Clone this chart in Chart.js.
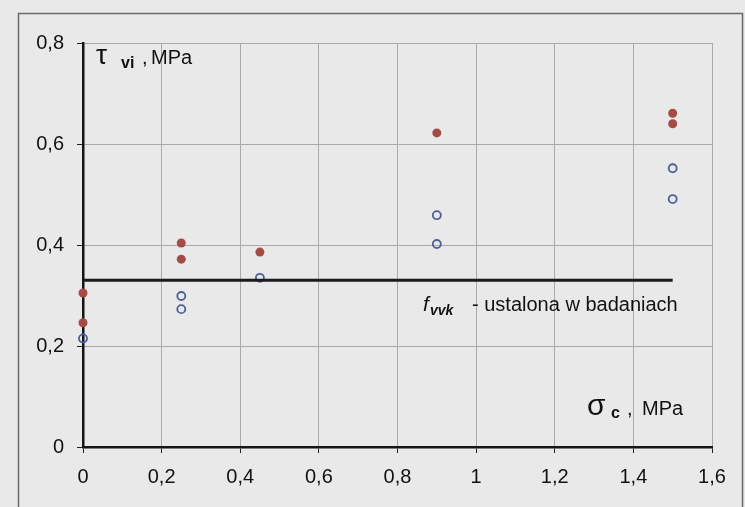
<!DOCTYPE html>
<html>
<head>
<meta charset="utf-8">
<script src="https://cdn.jsdelivr.net/npm/chart.js@4"></script>
<style>
  body { margin: 0; background: #e9e9e9; }
  canvas { display: block; }
</style>
</head>
<body>
<canvas id="myChart" width="745" height="507"></canvas>
<script>
// tick values (decimal comma like the original)
var xTicks = [0, 0.2, 0.4, 0.6, 0.8, 1, 1.2, 1.4, 1.6];
var yTicks = [0, 0.2, 0.4, 0.6, 0.8];

// filled red points
var redX = [0, 0, 0.25, 0.25, 0.45, 0.9, 1.5, 1.5];
var redY = [0.305, 0.246, 0.404, 0.372, 0.386, 0.622, 0.661, 0.640];

// open blue points
var blueX = [0, 0.25, 0.25, 0.45, 0.9, 0.9, 1.5, 1.5];
var blueY = [0.215, 0.299, 0.273, 0.335, 0.459, 0.402, 0.552, 0.491];

// f_vvk level
var fvvkX = [0, 1.5];
var fvvkY = [0.33, 0.33];

function toPoints(xs, ys) {
    return xs.map(function(x, i) { return { x: x, y: ys[i] }; });
}

function comma(v) {
    return String(Math.round(v * 10) / 10).replace('.', ',');
}

var FONT = '"Liberation Sans", Arial, sans-serif';

var decor = {
    id: 'decor',
    beforeDraw: function(chart) {
        var ctx = chart.ctx;
        ctx.save();
        ctx.fillStyle = '#e9e9e9';
        ctx.fillRect(0, 0, chart.width, chart.height);
        ctx.strokeStyle = '#6a6a6a';
        ctx.lineWidth = 1.5;
        ctx.strokeRect(18.5, 13.5, 724, 500);
        ctx.restore();
    },
    afterDraw: function(chart) {
        var ctx = chart.ctx;
        ctx.save();
        ctx.fillStyle = '#111';
        ctx.textBaseline = 'alphabetic';

        // y axis title: tau_vi , MPa
        ctx.font = '28px ' + FONT;
        ctx.fillText('\u03c4', 96, 64);
        ctx.font = 'bold 16px ' + FONT;
        ctx.fillText('vi', 121, 68);
        ctx.font = '20px ' + FONT;
        ctx.fillText(',', 142, 64);
        ctx.fillText('MPa', 151, 64);

        // x axis title: sigma_c , MPa
        ctx.font = '30px ' + FONT;
        ctx.fillText('\u03c3', 587, 415);
        ctx.font = 'bold 16px ' + FONT;
        ctx.fillText('c', 611, 418);
        ctx.font = '20px ' + FONT;
        ctx.fillText(',', 627, 415);
        ctx.fillText('MPa', 642, 415);

        // label of the f_vvk line
        ctx.font = 'italic 21px ' + FONT;
        ctx.fillText('f', 423, 311);
        ctx.font = 'italic bold 14px ' + FONT;
        ctx.fillText('vvk', 430, 315);
        ctx.font = '20px ' + FONT;
        ctx.fillText('- ustalona w badaniach', 472, 311);
        ctx.restore();
    }
};

var ctx = document.getElementById('myChart').getContext('2d');
var myChart = new Chart(ctx, {
    type: 'scatter',
    data: {
        datasets: [{
            label: 'fvvk',
            data: toPoints(fvvkX, fvvkY),
            showLine: true,
            borderColor: '#1b1b1b',
            borderWidth: 3,
            pointRadius: 0,
            clip: false
        }, {
            label: 'red',
            data: toPoints(redX, redY),
            backgroundColor: '#a44b45',
            borderColor: '#a44b45',
            pointRadius: 4.5,
            borderWidth: 0,
            clip: false
        }, {
            label: 'blue',
            data: toPoints(blueX, blueY),
            backgroundColor: 'rgba(0,0,0,0)',
            borderColor: '#4d5f98',
            pointRadius: 4,
            borderWidth: 1.8,
            clip: false
        }]
    },
    options: {
        responsive: false,
        animation: false,
        layout: { padding: { left: 0, top: 43, right: 33, bottom: 0 } },
        plugins: {
            legend: { display: false },
            tooltip: { enabled: false }
        },
        scales: {
            x: {
                type: 'linear',
                min: 0,
                max: 1.6,
                afterBuildTicks: function(scale) {
                    scale.ticks = xTicks.map(function(v) { return { value: v }; });
                },
                afterFit: function(scale) {
                    scale.height = 60;
                    scale.paddingLeft = 0;
                    scale.paddingRight = 0;
                },
                ticks: {
                    callback: function(v) { return comma(v); },
                    color: '#111',
                    font: { family: FONT, size: 20 },
                    padding: 12,
                    maxRotation: 0,
                    autoSkip: false
                },
                grid: {
                    color: function(c) { return c.tick && c.tick.value === 0 ? 'rgba(0,0,0,0)' : '#a9a9a9'; },
                    lineWidth: 1,
                    tickColor: '#222',
                    tickLength: 6
                },
                border: { color: '#151515', width: 2.5 }
            },
            y: {
                type: 'linear',
                min: 0,
                max: 0.8,
                afterBuildTicks: function(scale) {
                    scale.ticks = yTicks.map(function(v) { return { value: v }; });
                },
                afterFit: function(scale) {
                    scale.width = 83;
                    scale.paddingTop = 0;
                    scale.paddingBottom = 0;
                },
                ticks: {
                    callback: function(v) { return comma(v); },
                    color: '#111',
                    font: { family: FONT, size: 20 },
                    padding: 13
                },
                grid: {
                    color: function(c) { return c.tick && c.tick.value === 0 ? 'rgba(0,0,0,0)' : '#a9a9a9'; },
                    lineWidth: 1,
                    tickColor: '#222',
                    tickLength: 6
                },
                border: { color: '#151515', width: 2.5 }
            }
        }
    },
    plugins: [decor]
});
</script>
</body>
</html>
